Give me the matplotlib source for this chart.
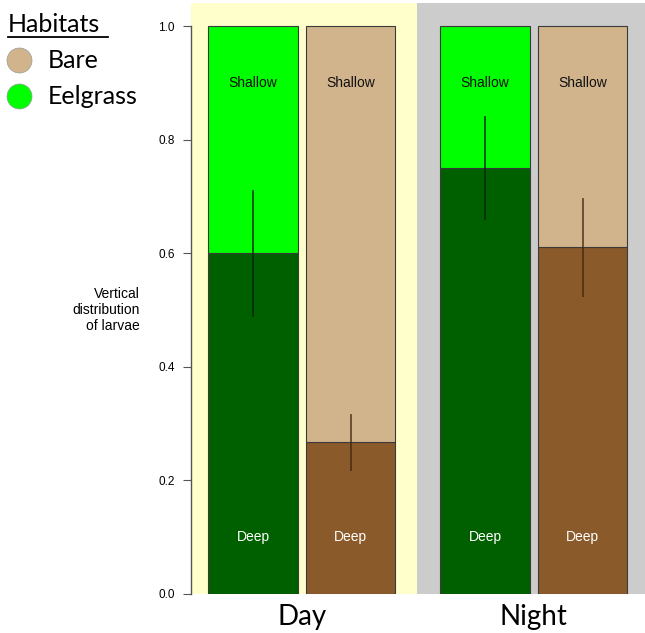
import matplotlib
matplotlib.use("Agg")
import matplotlib.pyplot as plt
from matplotlib.lines import Line2D

# Data
periods = ["Day", "Night"]
habitats = ["Eelgrass", "Bare"]
deep_fraction = [0.60, 0.268, 0.75, 0.611]          # Day-Eelgrass, Day-Bare, Night-Eelgrass, Night-Bare
err_low = [0.489, 0.218, 0.66, 0.525]
err_high = [0.709, 0.315, 0.84, 0.695]
bar_habitat = ["Eelgrass", "Bare", "Eelgrass", "Bare"]
yticks = [0.0, 0.2, 0.4, 0.6, 0.8, 1.0]

positions = [0.0, 1.0, 2.38, 3.38]
bar_width = 0.92

shallow_col = {"Eelgrass": "#00FF00", "Bare": "#D2B48C"}
deep_col = {"Eelgrass": "#006000", "Bare": "#8B5A2B"}
err_col = {"Eelgrass": (0.0, 0.15, 0.0, 0.75), "Bare": (0.25, 0.15, 0.05, 0.7)}

fig = plt.figure(figsize=(6.45, 6.33), dpi=100)
left = 191 / 645
ax = fig.add_axes([left, 39 / 633, 1 - left, 591 / 633])
xl = (-0.636, 4.02)
ax.set_xlim(*xl)
ax.set_ylim(0, 1.0405)

# backgrounds
ax.axvspan(xl[0], 1.68, color="#FFFFCC", zorder=0, lw=0)
ax.axvspan(1.68, xl[1], color="#CCCCCC", zorder=0, lw=0)

for x, d, lo, hi, h in zip(positions, deep_fraction, err_low, err_high, bar_habitat):
    ax.bar(x, d, width=bar_width, bottom=0, color=deep_col[h], edgecolor="#3a3a3a",
           linewidth=0.8, zorder=2)
    ax.bar(x, 1 - d, width=bar_width, bottom=d, color=shallow_col[h], edgecolor="#3a3a3a",
           linewidth=0.8, zorder=2)
    ax.plot([x, x], [lo, hi], color=err_col[h], lw=1.4, zorder=3)
    ax.text(x, 0.9, "Shallow", ha="center", va="center", fontsize=10,
            color="#111111", family="Liberation Sans", zorder=4)
    ax.text(x, 0.1, "Deep", ha="center", va="center", fontsize=10,
            color="white", family="Liberation Sans", zorder=4)

for sp in ["top", "right", "bottom"]:
    ax.spines[sp].set_visible(False)
ax.spines["left"].set_bounds(0, 1)
ax.spines["left"].set_color("#555555")
ax.spines["left"].set_linewidth(1.0)
ax.set_yticks(yticks)
ax.set_yticklabels([f"{v:.1f}" for v in yticks], fontsize=8.5, family="Liberation Sans")
ax.tick_params(axis="y", length=5.5, color="#555555", pad=6)
ax.set_xticks([])

# period labels
ax.text((positions[0] + positions[1]) / 2, -0.04, periods[0], ha="center", va="center",
        fontsize=20, family="Lato", transform=ax.transData)
ax.text((positions[2] + positions[3]) / 2, -0.04, periods[1], ha="center", va="center",
        fontsize=20, family="Lato", transform=ax.transData)

# y label
fig.text(140 / 645, 1 - 310 / 633, "Vertical\ndistribution\nof larvae", ha="right", va="center",
         fontsize=10, family="Liberation Sans", linespacing=1.15)

# legend
fig.text(8 / 645, 1 - 24 / 633, "Habitats", fontsize=18, family="Lato", va="center", ha="left")
fig.add_artist(Line2D([8 / 645, 108 / 645], [1 - 37 / 633, 1 - 37 / 633], color="black", lw=1.3))
leg_items = [("Bare", "#D2B48C", 60), ("Eelgrass", "#00FF00", 96)]
for name, col, y in leg_items:
    fig.add_artist(Line2D([19 / 645], [1 - y / 633], marker="o", markersize=18,
                          markerfacecolor=col, markeredgecolor="#999999", markeredgewidth=0.5, ls=""))
    fig.text(48 / 645, 1 - y / 633, name, fontsize=18, family="Lato", va="center", ha="left")

fig.savefig("out.png", dpi=100)
